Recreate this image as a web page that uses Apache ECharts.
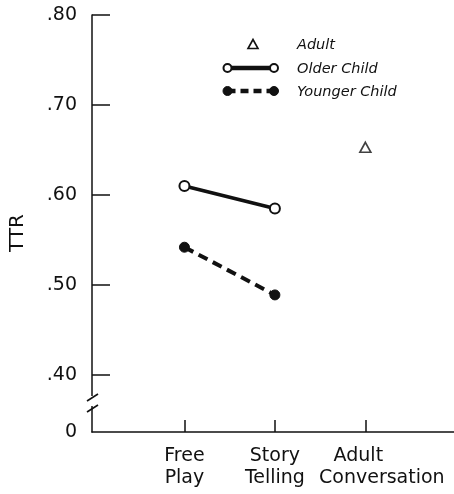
<!DOCTYPE html>
<html>
<head>
<meta charset="utf-8">
<script src="https://cdn.jsdelivr.net/npm/echarts@6/dist/echarts.min.js"></script>
<style>
html,body{margin:0;padding:0;background:#fff;}
#c{width:454px;height:494px;}
</style>
</head>
<body>
<div id="c"></div>
<script>
// ---- data ----
var categories = ['Free\nPlay', 'Story\nTelling', 'Adult\nConversation'];
var olderChild = [0.610, 0.585, null];
var youngerChild = [0.542, 0.489, null];
var adult = [null, null, 0.653];
var yTickValues = [0.40, 0.50, 0.60, 0.70, 0.80];
var yTickLabels = ['.40', '.50', '.60', '.70', '.80'];
var yBreakValue = 0.3367;   // axis origin shown as "0" below the break
var yBreakLabel = '0';
var seriesNames = ['Adult', 'Older Child', 'Younger Child'];

function toPairs(arr) {
  var out = [];
  arr.forEach(function (v, i) { if (v !== null) out.push([i + 1, v]); });
  return out;
}

var FONT = '"DejaVu Sans", sans-serif';
var INK = '#111';
var XFS = 19;
var X_MIN = -0.022, X_MAX = 3.98;

function catLabel(v) { return categories[Math.round(v) - 1] || ''; }

var chart = echarts.init(document.getElementById('c'), null, {renderer: 'canvas'});
var option = {
  animation: false,
  backgroundColor: '#fff',
  grid: {left: 92, top: 15, width: 364, height: 417, containLabel: false},
  legend: {
    orient: 'vertical',
    left: 223, top: 32,
    itemWidth: 56, itemHeight: 14, itemGap: 8.5,
    data: seriesNames,
    itemStyle: {opacity: 0},
    lineStyle: {opacity: 0},
    selectedMode: false,
    textStyle: {fontFamily: FONT, fontStyle: 'italic', fontSize: 14.5, color: INK, padding: [0, 0, 0, 7]}
  },
  xAxis: [{
    type: 'value', min: X_MIN, max: X_MAX, position: 'bottom',
    axisLine: {show: true, onZero: false, lineStyle: {color: INK, width: 1.5}},
    axisTick: {show: true, inside: true, length: 12, customValues: [1, 2, 3], lineStyle: {color: INK, width: 1.5}},
    axisLabel: {
      customValues: [1, 2],
      hideOverlap: false,
      margin: 13,
      fontFamily: FONT, fontSize: XFS, color: INK, lineHeight: 22,
      formatter: catLabel
    },
    splitLine: {show: false}
  }, {
    type: 'value', min: X_MIN, max: X_MAX, position: 'bottom', offset: 0,
    axisLine: {show: false},
    axisTick: {show: false},
    axisLabel: {
      customValues: [3],
      hideOverlap: false,
      margin: 13,
      fontFamily: FONT, fontSize: XFS, color: INK, lineHeight: 22,
      formatter: function (v) {
        var parts = catLabel(v).split('\n');
        return '{a|' + parts[0] + '}\n{b|' + parts[1] + '}';
      },
      rich: {
        a: {fontFamily: FONT, fontSize: XFS, color: INK, lineHeight: 22, padding: [0, 14, 0, 0]},
        b: {fontFamily: FONT, fontSize: XFS, color: INK, lineHeight: 22, padding: [0, 0, 0, 33]}
      }
    },
    splitLine: {show: false}
  }],
  yAxis: {
    type: 'value', min: yBreakValue, max: 0.80,
    axisLine: {show: true, onZero: false, lineStyle: {color: INK, width: 1.5}},
    axisTick: {show: true, inside: true, length: 18, customValues: yTickValues, lineStyle: {color: INK, width: 1.5}},
    axisLabel: {
      customValues: [yBreakValue].concat(yTickValues),
      margin: 15,
      fontFamily: FONT, fontSize: 19, color: INK,
      formatter: function (v) {
        if (Math.abs(v - yBreakValue) < 1e-6) return yBreakLabel;
        var i = yTickValues.findIndex(function (t) { return Math.abs(t - v) < 1e-6; });
        return i >= 0 ? yTickLabels[i] : '';
      }
    },
    splitLine: {show: false},
    name: 'TTR', nameLocation: 'middle', nameGap: 64, nameRotate: 90,
    nameTextStyle: {fontFamily: FONT, fontSize: 20, color: INK, padding: [0, 19, 0, 0]}
  },
  series: [
    {
      name: seriesNames[0], type: 'scatter', data: toPairs(adult),
      symbol: 'triangle', symbolSize: [11, 10],
      itemStyle: {color: '#fff', borderColor: INK, borderWidth: 1.6}
    },
    {
      name: seriesNames[1], type: 'line', data: toPairs(olderChild),
      symbol: 'circle', symbolSize: 10, showSymbol: true,
      lineStyle: {color: INK, width: 3.8},
      itemStyle: {color: '#fff', borderColor: INK, borderWidth: 2}
    },
    {
      name: seriesNames[2], type: 'line', data: toPairs(youngerChild),
      symbol: 'circle', symbolSize: 10, showSymbol: true,
      lineStyle: {color: INK, width: 4, type: [10, 6]},
      itemStyle: {color: INK, borderColor: INK, borderWidth: 1}
    }
  ]
};
chart.setOption(option);

// axis break marks on the y axis, and legend keys (decoration)
var p1 = chart.convertToPixel({yAxisIndex: 0}, 0.3778);
var p2 = chart.convertToPixel({yAxisIndex: 0}, 0.3656);
var ax = chart.convertToPixel({xAxisIndex: 0}, X_MIN);
var kx1 = 227.5, kx2 = 274;
chart.setOption({
  graphic: [
    {type: 'rect', shape: {x: ax - 4, y: p1 + 1, width: 8, height: (p2 - p1) - 1}, style: {fill: '#fff'}, z: 100},
    {type: 'line', shape: {x1: ax - 5, y1: p1 + 6, x2: ax + 6, y2: p1 - 1}, style: {stroke: INK, lineWidth: 1.6}, z: 101},
    {type: 'line', shape: {x1: ax - 5, y1: p2 + 6, x2: ax + 6, y2: p2 - 1}, style: {stroke: INK, lineWidth: 1.6}, z: 101},
    // legend keys
    {type: 'polygon', shape: {points: [[248, 48.5], [253, 39.5], [258, 48.5]]}, style: {fill: '#fff', stroke: INK, lineWidth: 1.6}, z: 50},
    {type: 'line', shape: {x1: kx1, y1: 68, x2: kx2, y2: 68}, style: {stroke: INK, lineWidth: 4.5}, z: 50},
    {type: 'circle', shape: {cx: kx1, cy: 68, r: 4}, style: {fill: '#fff', stroke: INK, lineWidth: 2}, z: 51},
    {type: 'circle', shape: {cx: kx2, cy: 68, r: 4}, style: {fill: '#fff', stroke: INK, lineWidth: 2}, z: 51},
    {type: 'line', shape: {x1: kx1, y1: 91, x2: kx2, y2: 91}, style: {stroke: INK, lineWidth: 4.5, lineDash: [8, 5]}, z: 50},
    {type: 'circle', shape: {cx: kx1, cy: 91, r: 4.5}, style: {fill: INK, stroke: INK, lineWidth: 1}, z: 51},
    {type: 'circle', shape: {cx: kx2, cy: 91, r: 4.5}, style: {fill: INK, stroke: INK, lineWidth: 1}, z: 51}
  ]
});
</script>
</body>
</html>
